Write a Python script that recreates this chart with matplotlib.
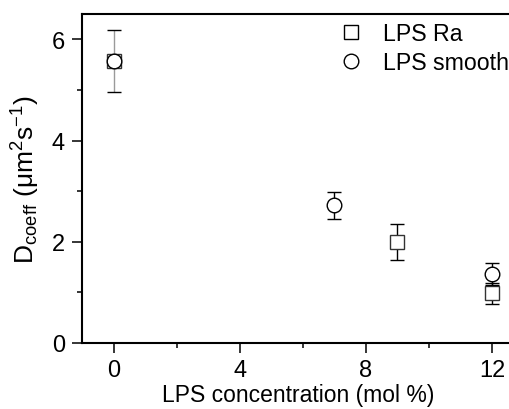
import matplotlib
matplotlib.use('Agg')
import matplotlib.pyplot as plt
from matplotlib.ticker import MultipleLocator
from matplotlib.lines import Line2D

plt.rcParams['font.family'] = ['Liberation Sans', 'DejaVu Sans']
plt.rcParams['mathtext.fontset'] = 'custom'
plt.rcParams['mathtext.rm'] = 'Liberation Sans'
plt.rcParams['mathtext.it'] = 'Liberation Sans:italic'

# LPS Ra (carrés)
ra_x = [0, 9, 12]
ra_y = [5.57, 1.99, 0.98]
ra_err = [0.62, 0.36, 0.2]

# LPS smooth (cercles)
sm_x = [0, 7, 12]
sm_y = [5.58, 2.72, 1.37]
sm_err = [0.0, 0.27, 0.22]

fig = plt.figure(figsize=(5.09, 4.10), dpi=100)
ax = fig.add_axes([82 / 509, 1 - 344 / 410, 1 - 82 / 509 + 0.01, (344 - 15) / 410])

ra = ax.errorbar(ra_x, ra_y, yerr=ra_err, fmt='s', ms=10.5, mfc='white', mec='black',
                 mew=1.0, ecolor='black', elinewidth=1.0, capsize=5, capthick=1.0,
                 zorder=3)
# barre d'erreur grise au point 0
ra[2][0].set_color(['#9a9a9a', 'black', 'black'])
ra[0].set_markeredgecolor('#333333')

ax.errorbar(sm_x, sm_y, yerr=sm_err, fmt='o', ms=10.5, mfc='white', mec='black',
            mew=1.0, ecolor='black', elinewidth=1.0, capsize=5, capthick=1.0,
            zorder=4)

ax.set_xlim(-1, 12.7)
ax.set_ylim(0, 6.5)
ax.xaxis.set_major_locator(MultipleLocator(4))
ax.xaxis.set_minor_locator(MultipleLocator(2))
ax.yaxis.set_major_locator(MultipleLocator(2))
ax.yaxis.set_minor_locator(MultipleLocator(1))
ax.tick_params(which='major', direction='out', length=7.2, width=1.1, labelsize=17)
ax.tick_params(axis='x', which='major', pad=4)
ax.tick_params(axis='y', which='major', pad=5)
ax.tick_params(which='minor', direction='out', length=3.6, width=1.1)
for s in ax.spines.values():
    s.set_linewidth(1.5)
ax.spines['right'].set_visible(False)

ax.set_xlabel('LPS concentration (mol %)', fontsize=16.5, labelpad=2)
ax.set_ylabel(r'D$_{\mathrm{coeff}}$ ($\mathrm{\mu}$m$^{2}$s$^{-1}$)', fontsize=19, labelpad=7)

handles = [Line2D([], [], ls='none', marker='s', ms=10.5, mfc='white', mec='black', mew=1.0),
           Line2D([], [], ls='none', marker='o', ms=10.5, mfc='white', mec='black', mew=1.0)]
ax.legend(handles, ['LPS Ra', 'LPS smooth'], loc='upper left',
          bbox_to_anchor=(339 / 509, 1 - 23 / 410), bbox_transform=fig.transFigure,
          frameon=False, fontsize=16.7, handlelength=1.0, handletextpad=0.9,
          labelspacing=0.25, borderpad=0, borderaxespad=0)

fig.savefig('out.png', dpi=100)
